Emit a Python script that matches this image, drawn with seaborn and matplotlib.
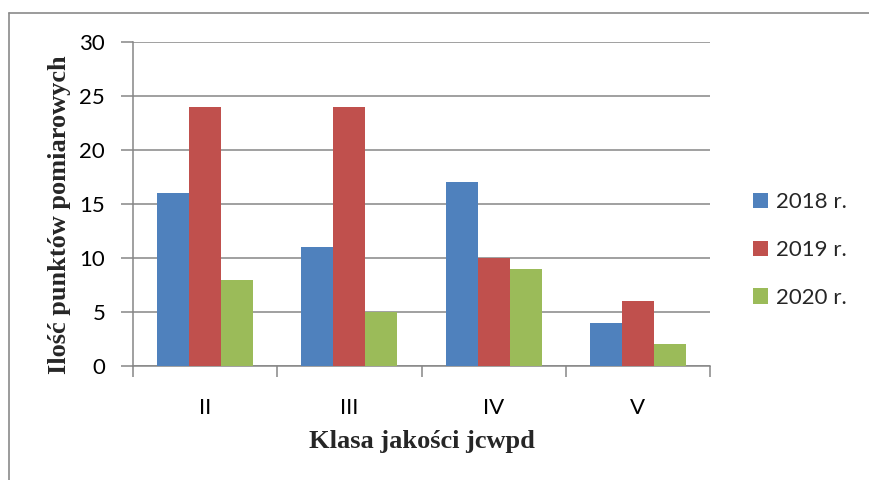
import matplotlib
matplotlib.use("Agg")
import matplotlib.pyplot as plt
from matplotlib.lines import Line2D
from matplotlib.ticker import FixedLocator
import seaborn as sns
import pandas as pd

categories = ["II", "III", "IV", "V"]
series_names = ["2018 r.", "2019 r.", "2020 r."]
values_2018 = [16, 11, 17, 4]
values_2019 = [24, 24, 10, 6]
values_2020 = [8, 5, 9, 2]
colors = ["#4F81BD", "#C0504D", "#9BBB59"]
y_ticks = [0, 5, 10, 15, 20, 25, 30]

rows = []
for name, vals in zip(series_names, [values_2018, values_2019, values_2020]):
    for c, v in zip(categories, vals):
        rows.append({"Klasa": c, "Rok": name, "Wartość": v})
df = pd.DataFrame(rows)

sns.set_theme(style="white")
plt.rcParams["font.family"] = ["Lato", "DejaVu Sans"]

fig = plt.figure(figsize=(8.69, 4.8), dpi=100)
ax = fig.add_axes([133/869, 1-366/480, (710-133)/869, (366-42)/480])

sns.barplot(data=df, x="Klasa", y="Wartość", hue="Rok", hue_order=series_names,
            order=categories, palette=colors, width=0.667, saturation=1,
            errorbar=None, ax=ax, zorder=3, linewidth=0)

grid_c = "#868686"
ax.set_ylim(0, 30)
ax.set_xlim(-0.5, 3.5)
ax.set_yticks(y_ticks)
ax.yaxis.grid(True, color=grid_c, linewidth=1.1, zorder=0)
ax.set_axisbelow(True)
for s in ["top", "right"]:
    ax.spines[s].set_visible(False)
for s in ["left", "bottom"]:
    ax.spines[s].set_color(grid_c)
    ax.spines[s].set_linewidth(1.1)

ax.tick_params(axis="y", which="major", length=9, width=1.1, color=grid_c,
               labelsize=16, pad=11, left=True, labelcolor="black")
ax.tick_params(axis="x", which="major", length=0, labelsize=16, pad=23, labelcolor="black")
ax.xaxis.set_minor_locator(FixedLocator([-0.5, 0.5, 1.5, 2.5, 3.5]))
ax.tick_params(axis="x", which="minor", length=8, width=1.1, color=grid_c, bottom=True)

ax.set_xlabel("Klasa jakości jcwpd", fontfamily="Liberation Serif", fontweight="bold",
              fontsize=19)
ax.set_ylabel("Ilość punktów pomiarowych", fontfamily="Liberation Serif", fontweight="bold",
              fontsize=19)
ax.xaxis.set_label_coords(0.5, (366-430)/324)
ax.yaxis.set_label_coords((71-133)/577, (366-215)/324)

leg = ax.legend(loc="center left", bbox_to_anchor=((753-133)/577, (366-250)/324),
                frameon=False, borderpad=0, borderaxespad=0,
                fontsize=16, handlelength=0.68, handleheight=0.68, handletextpad=0.35,
                labelspacing=1.25)

fig.add_artist(Line2D([9/869, 9/869], [0, 1-13/480], color="#8a8a8a", linewidth=1.2,
                      transform=fig.transFigure))
fig.add_artist(Line2D([9/869, 1], [1-13/480, 1-13/480], color="#8a8a8a", linewidth=1.2,
                      transform=fig.transFigure))

fig.savefig("out.png", dpi=100)
